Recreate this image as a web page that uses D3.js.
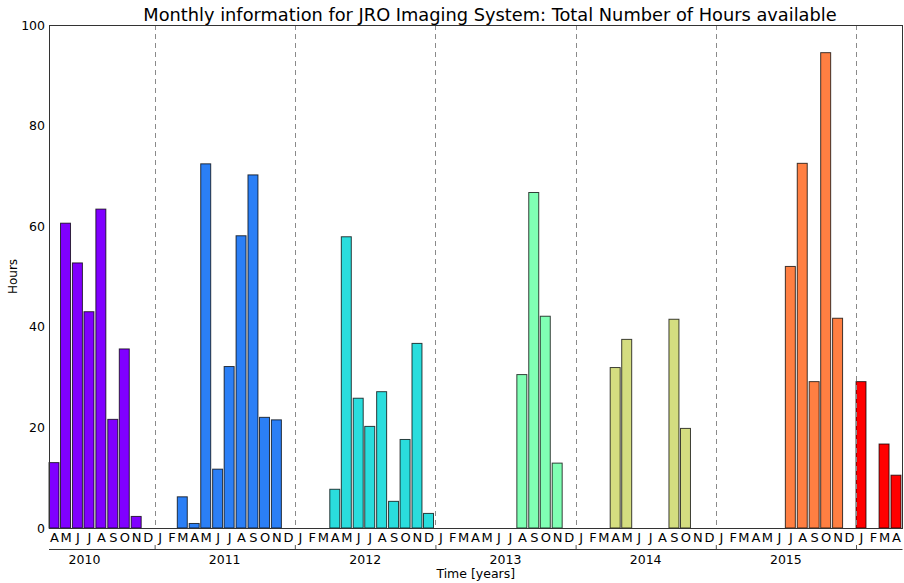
<!DOCTYPE html>
<html>
<head>
<meta charset="utf-8">
<script src="https://cdn.jsdelivr.net/npm/d3@7"></script>
<style>
  html, body { margin: 0; padding: 0; background: #fff; }
  svg { display: block; font-family: "DejaVu Sans", sans-serif; }
</style>
</head>
<body>
<svg id="chart" width="904" height="583"></svg>
<script>
// Months with recorded imaging time (YYYY-MM) and the hours available in each
const months = [
  "2010-04","2010-05","2010-06","2010-07","2010-08","2010-09","2010-10","2010-11",
  "2011-03","2011-04","2011-05","2011-06","2011-07","2011-08","2011-09","2011-10","2011-11",
  "2012-04","2012-05","2012-06","2012-07","2012-08","2012-09","2012-10","2012-11","2012-12",
  "2013-08","2013-09","2013-10","2013-11",
  "2014-04","2014-05","2014-09","2014-10",
  "2015-07","2015-08","2015-09","2015-10","2015-11",
  "2016-01","2016-03","2016-04"
];
const hours = [
  13.0, 60.6, 52.7, 43.0, 63.4, 21.6, 35.6, 2.3,
  6.2, 0.9, 72.4, 11.7, 32.1, 58.1, 70.2, 22.0, 21.5,
  7.7, 57.9, 25.8, 20.2, 27.1, 5.3, 17.6, 36.7, 2.9,
  30.5, 66.7, 42.1, 12.9,
  31.9, 37.5, 41.5, 19.8,
  52.0, 72.5, 29.1, 94.5, 41.7,
  29.1, 16.7, 10.5
];
const years = [2010, 2011, 2012, 2013, 2014, 2015, 2016];
const monthLetters = ["J","F","M","A","M","J","J","A","S","O","N","D"];
const yTicks = [0, 20, 40, 60, 80, 100];
const timeStart = "2010-04-01", timeEnd = "2016-05-01";

// Rainbow colour ramp (purple -> red), one colour per year
function rainbow(t) {
  const r = Math.min(1, Math.abs(2 * t - 0.5));
  const g = Math.sin(Math.PI * t);
  const b = Math.cos(Math.PI * t / 2);
  return d3.rgb(r * 255, g * 255, b * 255).formatHex();
}
const yearColor = y => rainbow(years.indexOf(y) / (years.length - 1));

const svg = d3.select("#chart");
const margin = {left: 49, right: 1.5, top: 25, bottom: 55};
const W = 904, H = 583;
const x0 = margin.left, x1 = W - margin.right;
const y0 = H - margin.bottom, y1 = margin.top;

const parse = d3.utcParse("%Y-%m-%d");
const x = d3.scaleUtc().domain([parse(timeStart), parse(timeEnd)]).range([x0, x1]);
const y = d3.scaleLinear().domain([0, 100]).range([y0, y1]);

const data = months.map((m, i) => ({date: parse(m + "-01"), value: hours[i]}));
const barDays = 26;

// Bars
svg.append("g").selectAll("rect").data(data).join("rect")
  .attr("x", d => x(d.date))
  .attr("width", d => x(d3.utcDay.offset(d.date, barDays)) - x(d.date))
  .attr("y", d => y(d.value))
  .attr("height", d => y(0) - y(d.value))
  .attr("fill", d => yearColor(d.date.getUTCFullYear()))
  .attr("stroke", "#000")
  .attr("stroke-opacity", 0.75)
  .attr("stroke-width", 1);

// Year separators
const boundaries = years.slice(1).map(yr => new Date(Date.UTC(yr, 0, 1)));
svg.append("g").selectAll("line").data(boundaries).join("line")
  .attr("x1", d => Math.round(x(d)) + 0.5).attr("x2", d => Math.round(x(d)) + 0.5)
  .attr("y1", y1).attr("y2", y0)
  .attr("stroke", "#8a8a8a").attr("stroke-width", 1)
  .attr("stroke-dasharray", "5,4");

// Frame
svg.append("rect")
  .attr("x", x0 + 0.5).attr("y", y1 + 0.5)
  .attr("width", x1 - x0 - 0.5).attr("height", y0 - y1)
  .attr("fill", "none").attr("stroke", "#333").attr("stroke-width", 1);

// Y axis
const yAxis = svg.append("g").attr("transform", `translate(${x0},0)`)
  .call(d3.axisLeft(y).tickValues(yTicks).tickSize(0).tickPadding(4));
yAxis.select(".domain").remove();
yAxis.selectAll("text").attr("font-size", 12.5).attr("fill", "#000")
  .attr("font-family", "DejaVu Sans");

// Month letters
const monthTicks = d3.utcMonth.range(parse(timeStart), parse(timeEnd))
  .map(d => d3.utcDay.offset(d, barDays / 2));
const mAxis = svg.append("g").attr("transform", `translate(0,${y0})`)
  .call(d3.axisBottom(x).tickValues(monthTicks).tickSize(0).tickPadding(4.5)
    .tickFormat(d => monthLetters[d.getUTCMonth()]));
mAxis.select(".domain").remove();
mAxis.selectAll("text").attr("font-size", 13).attr("fill", "#000")
  .attr("font-family", "DejaVu Sans");

// Year axis below the months
const yearY = 549;
const yrAxis = svg.append("g").attr("transform", `translate(0,${yearY})`)
  .call(d3.axisBottom(x).tickValues(boundaries).tickSize(-4).tickFormat(""));
yrAxis.select(".domain").attr("d", `M${x0},0.5H${x1}`).attr("stroke", "#333");
yrAxis.selectAll(".tick line").attr("stroke", "#555");

const midYears = years.map(yr => new Date(Date.UTC(yr, 6, 1)))
  .filter(d => x(d) >= x0 && x(d) <= x1);
const yrLabels = svg.append("g").attr("transform", `translate(0,${yearY})`)
  .call(d3.axisBottom(x).tickValues(midYears).tickSize(0).tickPadding(6)
    .tickFormat(d3.utcFormat("%Y")));
yrLabels.select(".domain").remove();
yrLabels.selectAll("text").attr("font-size", 12.5).attr("fill", "#000")
  .attr("font-family", "DejaVu Sans");

// Axis titles and chart title
svg.append("text")
  .attr("x", (x0 + x1) / 2).attr("y", 578)
  .attr("text-anchor", "middle").attr("font-size", 12.5)
  .text("Time [years]");

svg.append("text")
  .attr("transform", `translate(17,${(y0 + y1) / 2}) rotate(-90)`)
  .attr("text-anchor", "middle").attr("font-size", 12)
  .text("Hours");

svg.append("text")
  .attr("x", 490).attr("y", 21)
  .attr("text-anchor", "middle").attr("font-size", 17.8)
  .text("Monthly information for JRO Imaging System: Total Number of Hours available");
</script>
</body>
</html>
